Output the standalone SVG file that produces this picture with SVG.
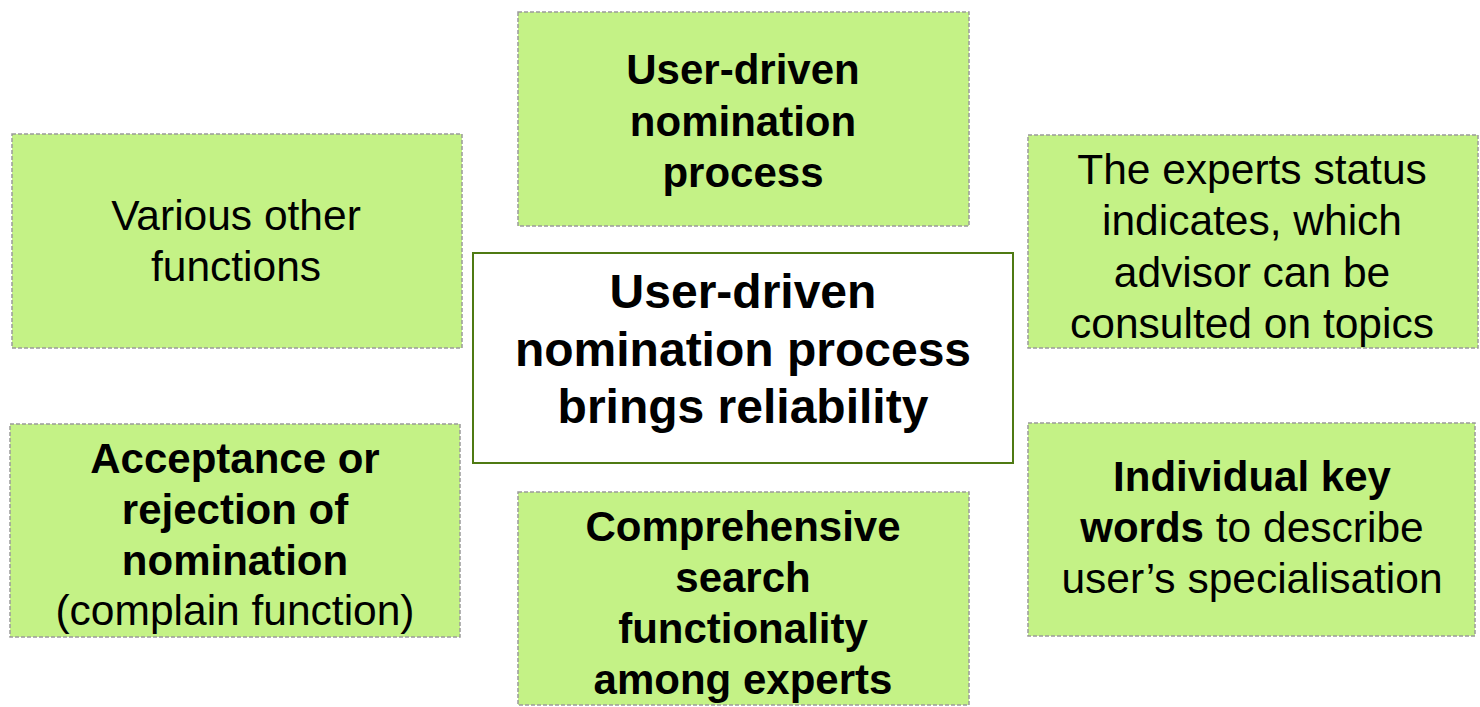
<svg xmlns="http://www.w3.org/2000/svg" width="1480" height="707" viewBox="0 0 1480 707">
<style>
.box{fill:#C4F286;stroke:#9A9A9A;stroke-width:1.5;stroke-dasharray:4 2}
.center{fill:#FFFFFF;stroke:#4F7A13;stroke-width:2}
text{font-family:"Liberation Sans",Arial,sans-serif;font-size:42.5px;fill:#000;text-anchor:middle}
.b{font-weight:bold;font-size:42px}
.cb{font-weight:bold;font-size:48px}
</style>
<rect width="1480" height="707" fill="#FFFFFF"/>
<g id="connectors"/>
<g id="node-top">
<rect class="box" x="518" y="12" width="451" height="214"/>
<text class="b" x="743" y="84">User-driven</text>
<text class="b" x="743" y="135.5">nomination</text>
<text class="b" x="743" y="187">process</text>
</g>
<g id="node-left-top">
<rect class="box" x="12" y="134" width="450" height="214"/>
<text x="236" y="230">Various other</text>
<text x="236" y="281">functions</text>
</g>
<g id="node-right-top">
<rect class="box" x="1028" y="135" width="450" height="213"/>
<text x="1252" y="184">The experts status</text>
<text x="1252" y="235">indicates, which</text>
<text x="1252" y="287">advisor can be</text>
<text x="1252" y="338">consulted on topics</text>
</g>
<g id="node-center">
<rect class="center" x="473" y="253" width="540" height="210"/>
<text class="cb" x="743" y="308">User-driven</text>
<text class="cb" x="743" y="366">nomination process</text>
<text class="cb" x="743" y="423">brings reliability</text>
</g>
<g id="node-left-bottom">
<rect class="box" x="10" y="424" width="450" height="213"/>
<text class="b" x="235" y="473">Acceptance or</text>
<text class="b" x="235" y="524">rejection of</text>
<text class="b" x="235" y="575">nomination</text>
<text x="235" y="625">(complain function)</text>
</g>
<g id="node-bottom">
<rect class="box" x="518" y="492" width="451" height="213"/>
<text class="b" x="743" y="541">Comprehensive</text>
<text class="b" x="743" y="592">search</text>
<text class="b" x="743" y="643">functionality</text>
<text class="b" x="743" y="694">among experts</text>
</g>
<g id="node-right-bottom">
<rect class="box" x="1028" y="423" width="447" height="213"/>
<text class="b" x="1252" y="491">Individual key</text>
<text x="1252" y="542"><tspan class="b">words</tspan> to describe</text>
<text x="1252" y="593">user’s specialisation</text>
</g>
</svg>
